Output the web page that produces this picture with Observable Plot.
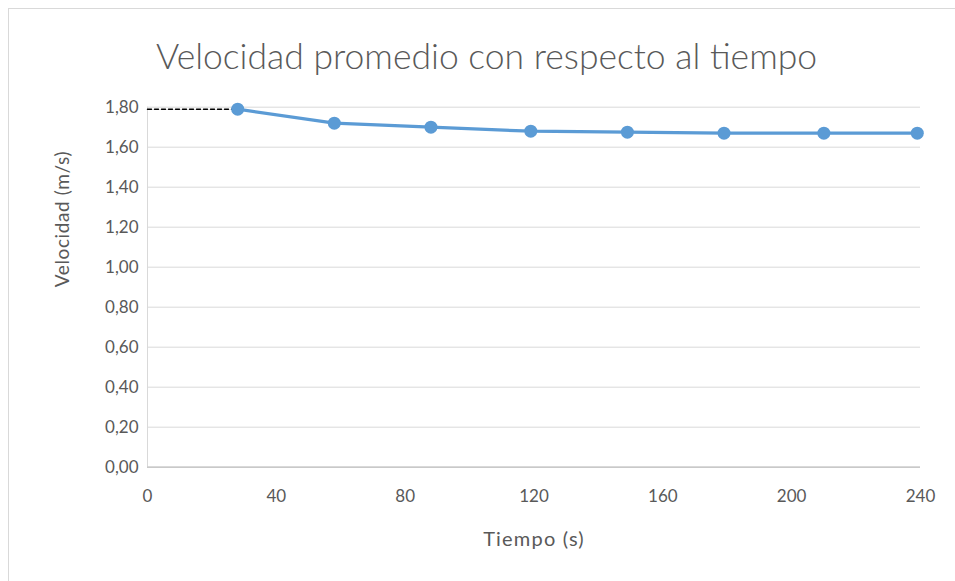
<!DOCTYPE html>
<html>
<head>
<meta charset="utf-8">
<script src="https://cdn.jsdelivr.net/npm/d3@7"></script>
<script src="https://cdn.jsdelivr.net/npm/@observablehq/plot@0.6"></script>
<style>
  html, body { margin: 0; padding: 0; background: #fff; }
  #wrap { position: relative; width: 955px; height: 581px; overflow: hidden; }
  #frame { position: absolute; left: 8px; top: 8px; width: 960px; height: 580px; border: 1px solid #d9d9d9; box-sizing: border-box; }
  #title { position: absolute; left: 0; top: 11px; width: 955px; height: 90px; text-align: center;
           font-family: Lato, "Open Sans", sans-serif; font-weight: 300; font-size: 35.5px; color: #595959; line-height: 90px; padding-left: 18px; box-sizing: border-box; }
  #chart { position: absolute; left: 0; top: 90px; }
</style>
</head>
<body>
<div id="wrap">
  <div id="frame"></div>
  <div id="title">Velocidad promedio con respecto al tiempo</div>
  <div id="chart"></div>
</div>
<script>
const tiempo = [28, 58, 88, 119, 149, 179, 210, 239];
const velocidad = [1.79, 1.72, 1.70, 1.68, 1.675, 1.67, 1.67, 1.67];
const xTicks = [0, 40, 80, 120, 160, 200, 240];
const yTicks = [0, 0.2, 0.4, 0.6, 0.8, 1.0, 1.2, 1.4, 1.6, 1.8];
const xTitle = "Tiempo (s)";
const yTitle = "Velocidad (m/s)";

const data = tiempo.map((t, i) => ({t, v: velocidad[i]}));
const guide = [{t: 0, v: velocidad[0]}, {t: tiempo[0], v: velocidad[0]}];
const fmt = d => d3.format(".2f")(d).replace(".", ",");

const chart = Plot.plot({
  width: 955,
  height: 491,
  marginLeft: 147,
  marginRight: 35,
  marginTop: 16.7,
  marginBottom: 114.3,
  style: {fontFamily: "Lato, 'Open Sans', sans-serif", fontSize: "17px", color: "#595959", background: "transparent"},
  x: {domain: [0, 240]},
  y: {domain: [0, 1.8]},
  marks: [
    Plot.gridY(yTicks, {stroke: "#d9d9d9", strokeOpacity: 1, strokeWidth: 1}),
    Plot.ruleX([0], {stroke: "#d9d9d9", strokeWidth: 1}),
    Plot.ruleY([0], {stroke: "#bfbfbf", strokeWidth: 1.2}),
    Plot.axisX({ticks: xTicks, tickSize: 0, tickPadding: 23, label: null, fill: "#595959"}),
    Plot.axisY({ticks: yTicks, tickSize: 0, tickPadding: 9, tickFormat: fmt, label: null, fill: "#595959"}),
    Plot.text([xTitle], {frameAnchor: "bottom", dy: 79, fontSize: 20, fontWeight: 400, fill: "#595959"}),
    Plot.text([yTitle], {frameAnchor: "left", dx: -85, rotate: -90, fontSize: 19, fontWeight: 400, fill: "#595959"}),
    Plot.line(guide, {x: "t", y: "v", stroke: "#000", strokeWidth: 1.5, strokeDasharray: "4,3"}),
    Plot.line(data, {x: "t", y: "v", stroke: "#5b9bd5", strokeWidth: 3.2}),
    Plot.dot(data, {x: "t", y: "v", r: 6.5, fill: "#5b9bd5", stroke: "none"})
  ]
});
chart.querySelectorAll("text").forEach(t => {
  if (t.textContent === xTitle) t.style.letterSpacing = "1.2px";
  if (t.textContent === yTitle) t.style.letterSpacing = "0.6px";
});
document.getElementById("chart").appendChild(chart);
</script>
</body>
</html>
